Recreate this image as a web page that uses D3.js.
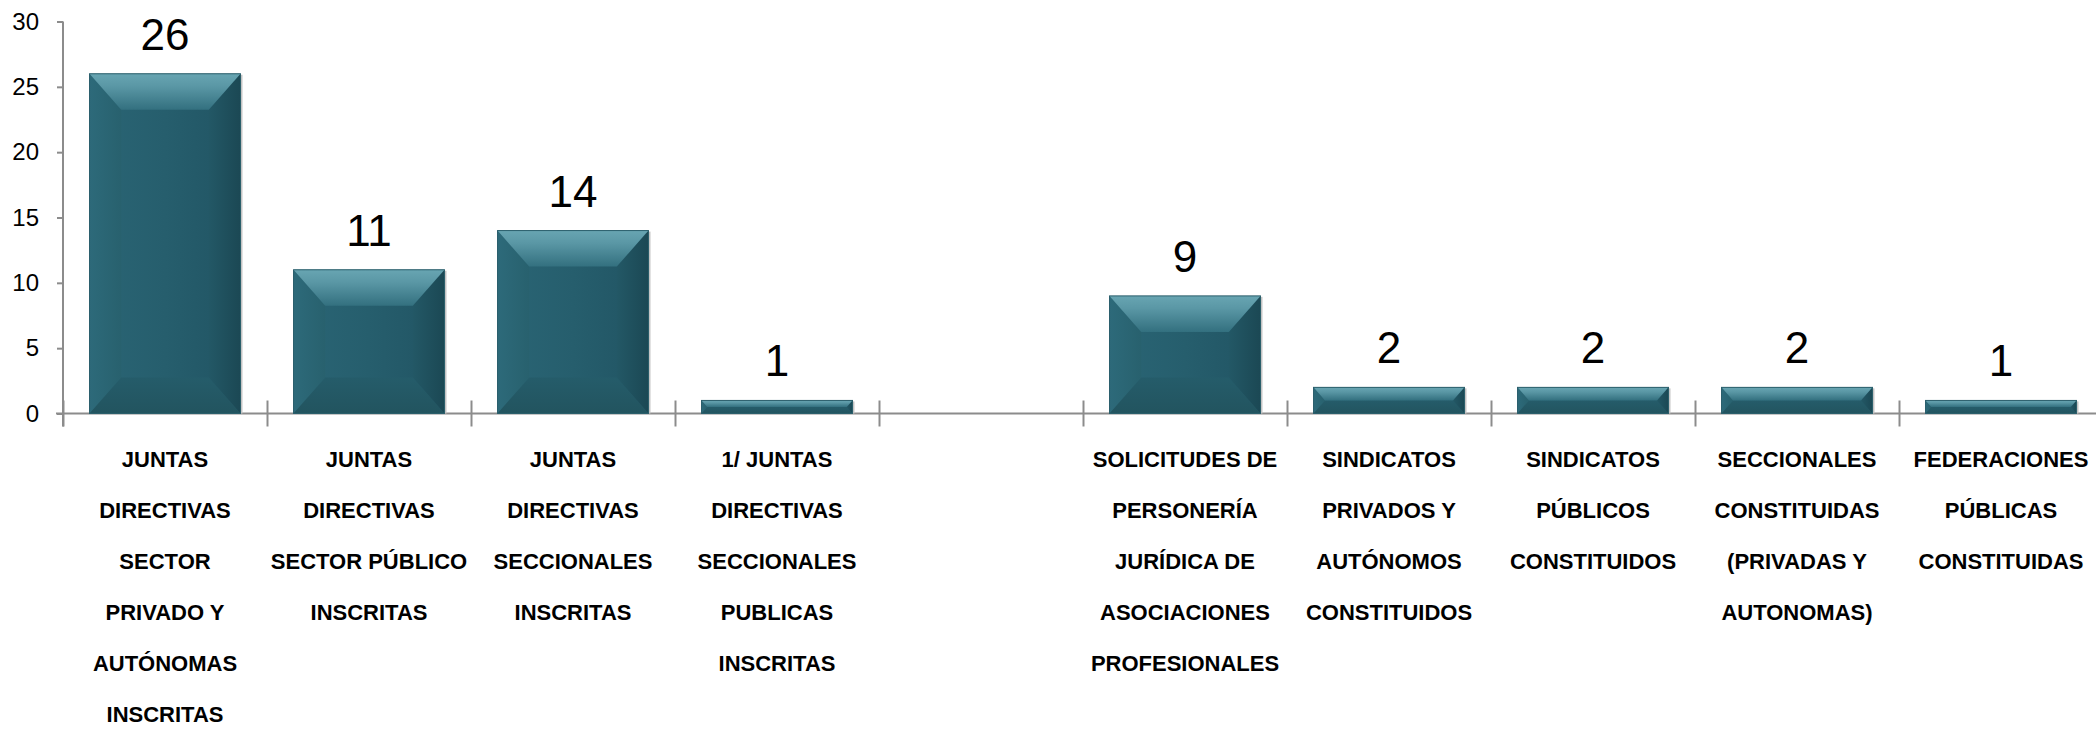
<!DOCTYPE html>
<html>
<head>
<meta charset="utf-8">
<script src="https://cdn.jsdelivr.net/npm/d3@7"></script>
<style>
  body { margin: 0; background: #fff; }
  svg { display: block; font-family: "Liberation Sans", Arial, sans-serif; }
</style>
</head>
<body>
<svg id="chart"></svg>
<script>
// category labels, lines split with "|"; the empty one is the gap between groups
const categories = [
    "JUNTAS|DIRECTIVAS|SECTOR|PRIVADO Y|AUTÓNOMAS|INSCRITAS",
    "JUNTAS|DIRECTIVAS|SECTOR PÚBLICO|INSCRITAS",
    "JUNTAS|DIRECTIVAS|SECCIONALES|INSCRITAS",
    "1/ JUNTAS|DIRECTIVAS|SECCIONALES|PUBLICAS|INSCRITAS",
    "",
    "SOLICITUDES DE|PERSONERÍA|JURÍDICA DE|ASOCIACIONES|PROFESIONALES",
    "SINDICATOS|PRIVADOS Y|AUTÓNOMOS|CONSTITUIDOS",
    "SINDICATOS|PÚBLICOS|CONSTITUIDOS",
    "SECCIONALES|CONSTITUIDAS|(PRIVADAS Y|AUTONOMAS)",
    "FEDERACIONES|PÚBLICAS|CONSTITUIDAS"
];
const values = [26, 11, 14, 1, null, 9, 2, 2, 2, 1];
const yTicks = [0, 5, 10, 15, 20, 25, 30];

const W = 2096, H = 731;
const plotLeft = 63, plotRight = 2103, plotTop = 21.5, plotBase = 413.5;

const svg = d3.select("#chart").attr("width", W).attr("height", H);

const x = d3.scaleBand()
    .domain(d3.range(categories.length))
    .range([plotLeft, plotRight])
    .paddingInner(0.26)
    .paddingOuter(0.13);

// band boundaries for the crossing ticks
const xb = d3.scaleLinear().domain([0, categories.length]).range([plotLeft, plotRight]);

const y = d3.scaleLinear().domain([0, 30]).range([plotBase, plotTop]);

// gradients for the bevel look
const defs = svg.append("defs");
function grad(id, x2, y2, stops){
    let g = defs.append("linearGradient").attr("id", id)
        .attr("x1", 0).attr("y1", 0).attr("x2", x2).attr("y2", y2);
    stops.forEach(s => g.append("stop").attr("offset", s[0]).attr("stop-color", s[1]));
}
grad("g_face", 1, 0, [[0, "#2a6575"], [0.5, "#265e6d"], [1, "#215463"]]);
grad("g_top", 0, 1, [[0, "#68a5b2"], [0.35, "#5a97a5"], [1, "#33707f"]]);
grad("g_left", 1, 0, [[0, "#2d6a7a"], [1, "#28616e"]]);
grad("g_right", 1, 0, [[0, "#235866"], [1, "#1b4854"]]);
grad("g_bot", 0, 1, [[0, "#255c6a"], [1, "#22545f"]]);

// y axis
const yAxis = svg.append("g")
    .attr("transform", `translate(${plotLeft},0)`)
    .call(d3.axisLeft(y).tickValues(yTicks).tickSize(6).tickPadding(18).tickSizeOuter(0));
yAxis.select(".domain").remove();
yAxis.selectAll(".tick line").attr("stroke", "#8c8c8c").attr("stroke-width", 2);
yAxis.selectAll(".tick text")
    .attr("font-size", "24px")
    .attr("font-family", "Liberation Sans, Arial, sans-serif")
    .attr("fill", "#000");
svg.append("line")
    .attr("x1", plotLeft).attr("x2", plotLeft)
    .attr("y1", y(30)).attr("y2", plotBase + 13)
    .attr("stroke", "#8c8c8c").attr("stroke-width", 2);

// x axis with ticks crossing the line
const xAxis = svg.append("g")
    .attr("transform", `translate(0,${plotBase})`)
    .call(d3.axisBottom(xb).ticks(categories.length).tickSize(13).tickFormat(""));
xAxis.select(".domain").remove();
xAxis.selectAll(".tick line")
    .attr("y1", -13)
    .attr("stroke", "#8c8c8c").attr("stroke-width", 2);
svg.append("line")
    .attr("x1", plotLeft - 7).attr("x2", W)
    .attr("y1", plotBase).attr("y2", plotBase)
    .attr("stroke", "#8c8c8c").attr("stroke-width", 2);

// bars
const bars = svg.append("g");
values.forEach((v, i) => {
    if (v == null) return;
    let x0 = x(i), w = x.bandwidth();
    let y0 = y(v), h = plotBase - y0;
    let x1 = x0 + w, y1 = plotBase;
    let bt = Math.min(36, h / 2);
    let bs = bt * 0.88;
    let g = bars.append("g");
    g.append("rect")
        .attr("x", x1).attr("y", y0 + 1).attr("width", 2).attr("height", h - 1)
        .attr("fill", "#c4c4c4");
    g.append("rect")
        .attr("x", x0).attr("y", y0).attr("width", w).attr("height", h)
        .attr("fill", "url(#g_face)");
    let pts = {
        top: [[x0, y0], [x1, y0], [x1 - bs, y0 + bt], [x0 + bs, y0 + bt]],
        left: [[x0, y0], [x0 + bs, y0 + bt], [x0 + bs, y1 - bt], [x0, y1]],
        right: [[x1, y0], [x1 - bs, y0 + bt], [x1 - bs, y1 - bt], [x1, y1]],
        bot: [[x0, y1], [x1, y1], [x1 - bs, y1 - bt], [x0 + bs, y1 - bt]]
    };
    g.append("polygon").attr("points", pts.left.join(" ")).attr("fill", "url(#g_left)");
    g.append("polygon").attr("points", pts.right.join(" ")).attr("fill", "url(#g_right)");
    g.append("polygon").attr("points", pts.bot.join(" ")).attr("fill", "url(#g_bot)");
    g.append("polygon").attr("points", pts.top.join(" ")).attr("fill", "url(#g_top)");
    g.append("rect")
        .attr("x", x0).attr("y", y0).attr("width", w).attr("height", h)
        .attr("fill", "none").attr("stroke", "#2b5f6c").attr("stroke-width", 1);

    svg.append("text")
        .attr("x", x0 + w / 2)
        .attr("y", y0 - 24)
        .attr("text-anchor", "middle")
        .attr("font-size", "44px")
        .attr("fill", "#000")
        .text(v);
});

// category labels
categories.forEach((c, i) => {
    if (!c) return;
    let t = svg.append("text")
        .attr("text-anchor", "middle")
        .attr("font-size", "22px")
        .attr("font-weight", "bold")
        .attr("fill", "#000");
    c.split("|").forEach((line, k) => {
        t.append("tspan")
            .attr("x", x(i) + x.bandwidth() / 2)
            .attr("y", 467 + k * 51)
            .text(line);
    });
});
</script>
</body>
</html>
